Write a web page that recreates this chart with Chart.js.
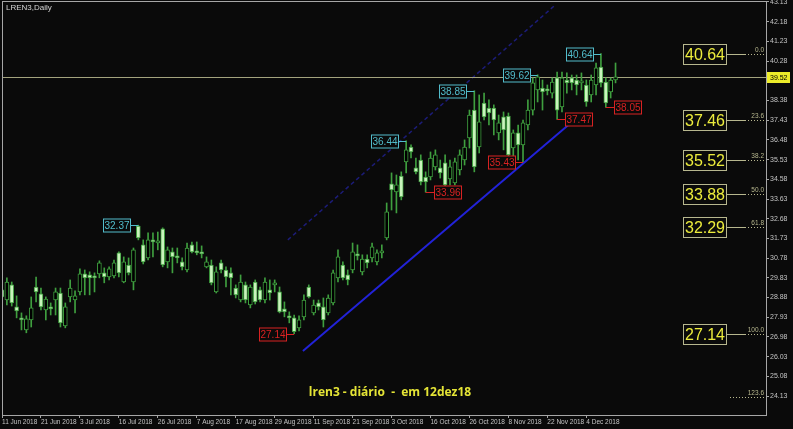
<!DOCTYPE html>
<html>
<head>
<meta charset="utf-8">
<script src="https://cdn.jsdelivr.net/npm/chart.js@4.4.1/dist/chart.umd.min.js"></script>
<style>
  html, body { margin: 0; padding: 0; background: #000; }
  #wrap { width: 793px; height: 429px; position: relative; background: #0a0a0a; }
</style>
</head>
<body>
<div id="wrap"><canvas id="myChart"></canvas></div>
<script>
// Daily OHLC, 11 Jun 2018 -> 12 Dec 2018 (one entry per session)
const opens = [
  29.25, 28.76, 29.49, 28.43, 27.90, 27.32, 27.80, 29.39, 29.06, 28.28,
  28.43, 28.76, 29.10, 27.51, 28.91, 28.76, 29.15, 30.02, 29.97, 29.92,
  30.02, 30.07, 29.87, 29.92, 31.03, 29.63, 30.45, 29.63, 32.33, 31.42,
  30.79, 31.66, 31.51, 32.19, 30.60, 31.08, 30.89, 30.60, 30.21, 31.42,
  31.13, 31.08, 30.36, 30.45, 29.15, 30.55, 30.21, 30.07, 29.34, 28.76,
  29.49, 28.52, 29.63, 29.25, 28.76, 29.25, 29.49, 29.15, 28.33, 28.00,
  27.90, 27.42, 27.95, 29.39, 28.14, 28.62, 28.43, 28.14, 28.62, 29.83,
  30.45, 29.97, 30.21, 30.98, 30.12, 30.74, 30.79, 30.60, 31.03, 31.75,
  34.36, 33.97, 34.74, 35.42, 36.14, 35.13, 35.51, 34.69, 34.69, 35.18,
  35.13, 35.37, 34.60, 34.41, 35.03, 35.51, 36.58, 37.92, 36.14, 38.26,
  38.02, 38.02, 36.82, 37.59, 37.63, 36.09, 36.82, 36.24, 37.20, 37.92,
  38.89, 38.98, 38.94, 38.74, 39.47, 38.07, 39.37, 39.47, 39.37, 39.23,
  39.13, 38.65, 39.13, 39.99, 39.27, 38.79, 39.37
];
const highs = [
  29.49, 29.83, 29.63, 28.96, 28.14, 28.00, 28.91, 29.87, 29.34, 28.91,
  28.62, 29.34, 29.34, 28.62, 29.73, 29.20, 30.26, 30.21, 30.12, 30.07,
  30.65, 30.31, 30.36, 30.69, 31.08, 30.84, 30.79, 31.27, 32.37, 31.66,
  32.00, 32.00, 32.04, 32.24, 31.32, 31.27, 31.27, 30.79, 31.51, 31.56,
  31.56, 31.37, 30.84, 30.69, 30.36, 30.69, 30.36, 30.31, 29.49, 29.97,
  29.63, 29.49, 29.73, 29.39, 29.83, 29.73, 29.73, 29.39, 28.67, 28.19,
  28.04, 28.00, 29.01, 29.49, 28.76, 28.76, 28.86, 29.01, 30.21, 31.18,
  30.60, 30.21, 31.51, 31.42, 30.94, 30.94, 31.51, 31.18, 31.42, 33.44,
  34.89, 34.79, 34.94, 36.44, 36.24, 35.61, 35.76, 34.94, 35.90, 36.00,
  35.51, 35.76, 35.51, 35.61, 36.00, 36.48, 37.92, 38.85, 38.65, 38.74,
  38.41, 38.17, 37.68, 37.83, 37.78, 36.96, 37.20, 37.44, 38.41, 39.47,
  39.62, 39.37, 39.13, 39.47, 39.75, 39.75, 39.71, 39.61, 39.61, 39.71,
  39.37, 39.61, 40.19, 40.64, 39.47, 39.47, 40.19
];
const lows = [
  28.76, 28.52, 28.47, 27.90, 27.32, 27.18, 27.46, 28.67, 28.28, 27.80,
  28.04, 28.04, 27.46, 27.42, 28.67, 28.14, 29.01, 29.01, 29.01, 29.15,
  29.83, 29.59, 29.73, 29.83, 29.87, 29.59, 29.97, 29.25, 31.66, 30.50,
  30.69, 30.84, 31.18, 30.36, 30.31, 30.07, 30.55, 30.21, 30.12, 31.03,
  30.94, 30.79, 30.31, 29.49, 29.10, 30.07, 29.39, 29.01, 28.86, 28.67,
  28.62, 28.38, 28.57, 28.67, 28.62, 28.76, 29.15, 28.14, 27.95, 27.66,
  27.14, 27.27, 27.80, 28.86, 28.04, 28.28, 27.46, 28.04, 28.52, 29.63,
  29.73, 29.49, 30.07, 30.69, 29.97, 30.31, 30.60, 30.45, 30.79, 31.66,
  33.10, 32.96, 33.59, 34.89, 35.61, 34.84, 34.31, 33.96, 34.55, 35.03,
  34.64, 34.16, 34.31, 34.31, 34.79, 35.27, 36.09, 34.94, 35.85, 37.44,
  37.20, 36.72, 36.48, 36.00, 35.55, 35.66, 35.51, 35.43, 36.96, 37.68,
  38.31, 37.92, 38.65, 38.50, 37.47, 37.83, 38.74, 38.89, 38.65, 38.89,
  38.10, 38.31, 38.65, 39.03, 38.05, 38.50, 39.23
];
const closes = [
  28.91, 29.63, 28.62, 28.24, 27.80, 27.85, 28.38, 29.15, 28.43, 28.81,
  28.33, 29.15, 27.66, 28.43, 29.34, 28.96, 30.02, 29.83, 29.83, 29.83,
  30.55, 29.87, 30.26, 30.55, 30.07, 30.60, 30.07, 31.18, 31.75, 30.60,
  31.66, 31.56, 31.61, 30.45, 31.18, 30.84, 30.79, 30.36, 31.27, 31.08,
  31.03, 30.98, 30.60, 29.59, 30.12, 30.21, 29.87, 29.83, 29.01, 29.63,
  28.76, 29.39, 28.67, 28.76, 29.63, 29.10, 29.59, 28.19, 28.19, 27.90,
  27.23, 27.80, 28.76, 28.91, 28.52, 28.43, 27.80, 28.86, 30.07, 30.84,
  29.83, 29.73, 31.08, 30.89, 30.74, 30.55, 31.32, 31.03, 31.08, 33.01,
  34.07, 34.31, 33.73, 36.00, 35.90, 34.94, 34.45, 34.45, 35.61, 35.76,
  34.89, 34.31, 35.18, 35.42, 35.76, 36.14, 37.68, 35.18, 37.35, 37.59,
  37.78, 37.44, 37.30, 36.96, 35.76, 36.82, 36.24, 37.30, 37.92, 39.23,
  39.52, 38.79, 38.84, 39.27, 37.92, 39.47, 39.23, 39.23, 39.13, 39.32,
  38.31, 39.37, 39.95, 39.23, 38.26, 39.37, 39.52
];

// right-hand price scale and bottom date scale
const priceTicks = [43.13, 42.18, 41.23, 40.28, 39.33, 38.38, 37.43, 36.48, 35.53, 34.58, 33.63,
  32.68, 31.73, 30.78, 29.83, 28.88, 27.93, 26.98, 26.03, 25.08, 24.13];
const dateTicks = ['11 Jun 2018', '21 Jun 2018', '3 Jul 2018', '16 Jul 2018', '26 Jul 2018', '7 Aug 2018',
  '17 Aug 2018', '29 Aug 2018', '11 Sep 2018', '21 Sep 2018', '3 Oct 2018', '16 Oct 2018',
  '26 Oct 2018', '8 Nov 2018', '22 Nov 2018', '4 Dec 2018'];
const dateTickBars = [0, 8, 16, 24, 32, 40, 48, 56, 64, 72, 80, 88, 96, 104, 112, 120];

// swing labels (bar index, price)
const highMarkBars = [28, 83, 97, 110, 123];
const highMarkPrices = [32.37, 36.44, 38.85, 39.62, 40.64];
const lowMarkBars = [60, 87, 107, 114, 124];
const lowMarkPrices = [27.14, 33.96, 35.43, 37.47, 38.05];

// channel lines: [bar, price] end points
const channelLow = [[61.8, 26.30], [118.3, 37.60]];
const channelHigh = [[58.7, 31.66], [113.6, 42.98]];

// fibonacci retracement 40.64 -> 27.14
const fibLevels = [40.64, 37.46, 35.52, 33.88, 32.29, 27.14, 24.10];
const fibNames = ['0.0', '23.6', '38.2', '50.0', '61.8', '100.0', '123.6'];
const fibBoxed = [true, true, true, true, true, true, false];

const lastPrice = 39.52;

// candle colours (MT4 green on black)
const wickColor = '#3f9f3f';
const bullBody = '#000000';
const bearBody = '#c9f3bc';

const bodyData = opens.map((o, i) => ({ x: i, y: [o, closes[i]] }));
const wickData = lows.map((l, i) => ({ x: i, y: [l, highs[i]] }));
const bodyFill = opens.map((o, i) => closes[i] >= o ? bullBody : bearBody);

const smallFont = '"Liberation Sans", Arial, sans-serif';

const overlay = {
  id: 'overlay',
  beforeDatasetsDraw(chart) {
    const { ctx, chartArea: a, scales: { x, y } } = chart;
    ctx.save();
    ctx.beginPath();
    ctx.rect(a.left, a.top, a.right - a.left, a.bottom - a.top);
    ctx.clip();

    // upper channel (dashed, dark blue)
    ctx.strokeStyle = '#1c1c78';
    ctx.lineWidth = 1.5;
    ctx.setLineDash([4, 3]);
    ctx.beginPath();
    ctx.moveTo(x.getPixelForValue(channelHigh[0][0]), y.getPixelForValue(channelHigh[0][1]));
    ctx.lineTo(x.getPixelForValue(channelHigh[1][0]), y.getPixelForValue(channelHigh[1][1]));
    ctx.stroke();

    // lower channel (solid blue)
    ctx.setLineDash([]);
    ctx.strokeStyle = '#2222d8';
    ctx.lineWidth = 2;
    ctx.beginPath();
    ctx.moveTo(x.getPixelForValue(channelLow[0][0]), y.getPixelForValue(channelLow[0][1]));
    ctx.lineTo(x.getPixelForValue(channelLow[1][0]), y.getPixelForValue(channelLow[1][1]));
    ctx.stroke();

    // current price line
    const py = Math.round(y.getPixelForValue(lastPrice)) + 0.5;
    ctx.strokeStyle = '#a3a37e';
    ctx.lineWidth = 1;
    ctx.beginPath();
    ctx.moveTo(a.left, py);
    ctx.lineTo(a.right, py);
    ctx.stroke();
    ctx.restore();
  },
  afterDraw(chart) {
    const { ctx, chartArea: a, scales: { x, y } } = chart;
    ctx.save();

    // frame
    ctx.strokeStyle = '#a6a6a6';
    ctx.lineWidth = 1;
    ctx.strokeRect(a.left + 0.5, a.top + 0.5, a.right - a.left, a.bottom - a.top);

    // swing labels
    ctx.font = '10px ' + smallFont;
    ctx.textAlign = 'center';
    ctx.textBaseline = 'middle';
    const drawMark = (bar, price, color, side) => {
      const bx = x.getPixelForValue(bar);
      const by = Math.round(y.getPixelForValue(price)) + 0.5;
      const w = 27, h = 13, gap = 8;
      const left = side === 'left' ? Math.round(bx - gap - w) + 0.5 : Math.round(bx + gap) + 0.5;
      ctx.strokeStyle = color;
      ctx.beginPath();
      ctx.moveTo(side === 'left' ? left + w : left, by);
      ctx.lineTo(bx, by);
      ctx.stroke();
      ctx.fillStyle = '#0a0a0a';
      ctx.fillRect(left, by - h / 2, w, h);
      ctx.strokeRect(left, by - h / 2, w, h);
      ctx.fillStyle = color;
      ctx.fillText(price.toFixed(2), left + w / 2, by + 0.5);
    };
    const lowSide = ['left', 'right', 'left', 'right', 'right'];
    highMarkBars.forEach((b, i) => drawMark(b, highMarkPrices[i], '#52bccb', 'left'));
    lowMarkBars.forEach((b, i) => drawMark(b, lowMarkPrices[i], '#d82222', lowSide[i]));

    // fibonacci levels
    fibLevels.forEach((v, i) => {
      const fy = Math.round(y.getPixelForValue(v)) + 0.5;
      const boxL = a.right - 83, boxW = 43, boxH = 20;
      ctx.strokeStyle = '#b7b78e';
      ctx.lineWidth = 1;
      if (fibBoxed[i]) {
        ctx.beginPath();
        ctx.moveTo(boxL + boxW, fy);
        ctx.lineTo(a.right - 21, fy);
        ctx.stroke();
        ctx.strokeRect(boxL + 0.5, fy - boxH / 2, boxW, boxH);
        ctx.fillStyle = '#ecec3c';
        ctx.font = '16px ' + smallFont;
        ctx.textAlign = 'center';
        ctx.fillText(v.toFixed(2), boxL + boxW / 2 + 0.5, fy + 1);
      }
      ctx.setLineDash([1, 2]);
      ctx.beginPath();
      ctx.moveTo(fibBoxed[i] ? a.right - 21 : a.right - 36, fy);
      ctx.lineTo(a.right, fy);
      ctx.stroke();
      ctx.setLineDash([]);
      ctx.fillStyle = '#b7b78e';
      ctx.font = '6.5px ' + smallFont;
      ctx.textAlign = 'right';
      ctx.fillText(fibNames[i], a.right - 2, fy - 4);
    });

    // current price tag on the axis
    const py = Math.round(y.getPixelForValue(lastPrice));
    ctx.fillStyle = '#ecec2a';
    ctx.fillRect(a.right + 1, py - 5, 23, 11);
    ctx.fillStyle = '#000';
    ctx.font = '7px ' + smallFont;
    ctx.textAlign = 'left';
    ctx.fillText(lastPrice.toFixed(2), a.right + 4, py + 1);

    // symbol caption
    ctx.fillStyle = '#d4d4d4';
    ctx.font = '8px ' + smallFont;
    ctx.textBaseline = 'top';
    ctx.fillText('LREN3,Daily', a.left + 4, a.top + 3);

    // comment
    ctx.fillStyle = '#e4e436';
    ctx.font = 'bold 12px "Open Sans", "DejaVu Sans", sans-serif';
    ctx.textAlign = 'center';
    ctx.textBaseline = 'middle';
    ctx.fillText('lren3 - diário  -  em 12dez18', 390, 393);
    ctx.restore();
  }
};

const ctx = document.getElementById('myChart').getContext('2d');
new Chart(ctx, {
  type: 'bar',
  data: {
    datasets: [
      {
        label: 'body',
        data: bodyData,
        backgroundColor: bodyFill,
        borderColor: wickColor,
        borderWidth: 1,
        borderSkipped: false,
        barThickness: 4,
        minBarLength: 2,
        grouped: false,
        order: 1
      },
      {
        label: 'wick',
        data: wickData,
        backgroundColor: wickColor,
        borderWidth: 0,
        barThickness: 1,
        grouped: false,
        order: 2
      }
    ]
  },
  options: {
    responsive: true,
    maintainAspectRatio: false,
    animation: false,
    layout: { padding: { left: 2, top: 1, right: 0, bottom: 0 } },
    plugins: {
      legend: { display: false },
      tooltip: { enabled: false }
    },
    scales: {
      x: {
        type: 'linear',
        offset: false,
        min: 0,
        max: 156.9,
        afterFit: (scale) => {
          scale.height = 14;
          scale.paddingLeft = 0;
          scale.paddingRight = 0;
        },
        afterBuildTicks: (scale) => { scale.ticks = dateTickBars.map(v => ({ value: v })); },
        grid: { display: true, offset: false, drawOnChartArea: false, tickLength: 3, color: '#a6a6a6' },
        border: { color: '#a6a6a6' },
        ticks: {
          autoSkip: false,
          maxRotation: 0,
          align: 'start',
          padding: 0,
          color: '#c4c4c4',
          font: { size: 6.5, family: smallFont },
          callback: (v) => dateTicks[dateTickBars.indexOf(v)]
        }
      },
      y: {
        position: 'right',
        min: 23.217,
        max: 43.178,
        afterFit: (scale) => {
          scale.width = 27;
          scale.paddingTop = 0;
          scale.paddingBottom = 0;
        },
        afterBuildTicks: (scale) => { scale.ticks = priceTicks.map(v => ({ value: v })); },
        grid: { display: true, drawOnChartArea: false, tickLength: 3, color: '#a6a6a6' },
        border: { color: '#a6a6a6' },
        ticks: {
          padding: 1,
          color: '#c4c4c4',
          font: { size: 7, family: smallFont },
          callback: (v) => v.toFixed(2)
        }
      }
    }
  },
  plugins: [overlay]
});
</script>
</body>
</html>
